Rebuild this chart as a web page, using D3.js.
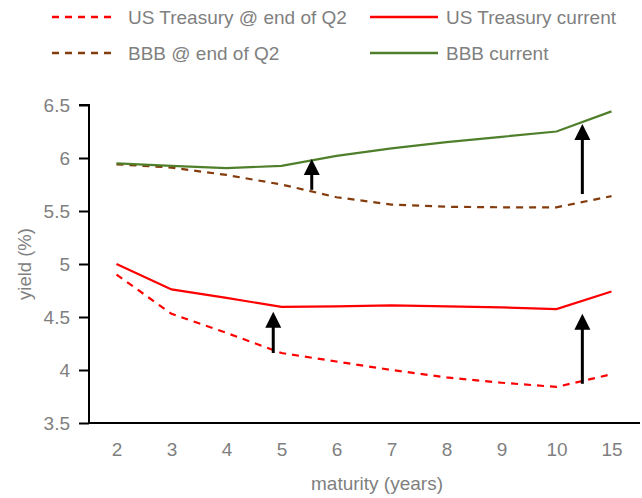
<!DOCTYPE html>
<html><head><meta charset="utf-8">
<script src="https://cdn.jsdelivr.net/npm/d3@7"></script>
<style>body{margin:0;background:#fff}svg{display:block}text{font-family:"Liberation Sans",Arial,sans-serif}</style>
</head><body>
<svg id="c" width="642" height="498"></svg>
<script>
const maturities = ["2","3","4","5","6","7","8","9","10","15"];
const ustQ2      = [4.90, 4.53, 4.35, 4.16, 4.08, 4.00, 3.93, 3.88, 3.84, 3.96];
const ustCurrent = [5.00, 4.76, 4.68, 4.595, 4.60, 4.61, 4.60, 4.59, 4.575, 4.74];
const bbbQ2      = [5.94, 5.91, 5.84, 5.75, 5.63, 5.56, 5.54, 5.535, 5.535, 5.64];
const bbbCurrent = [5.95, 5.925, 5.905, 5.925, 6.02, 6.09, 6.15, 6.20, 6.25, 6.44];
const yTicks = [3.5, 4, 4.5, 5, 5.5, 6, 6.5];
// arrows: position as fractional category index (0 = "2"), from value -> to value
const arrowIdx  = [3.55, 2.85, 8.47, 8.47];
const arrowFrom = [5.70, 4.16, 5.66, 3.87];
const arrowTo   = [5.99, 4.55, 6.32, 4.53];

const series = [
  {name:"US Treasury @ end of Q2", values:ustQ2, color:"#FF0000", dash:"7,6"},
  {name:"US Treasury current", values:ustCurrent, color:"#FF0000", dash:null},
  {name:"BBB @ end of Q2", values:bbbQ2, color:"#843C0C", dash:"7,6"},
  {name:"BBB current", values:bbbCurrent, color:"#4F7F2A", dash:null}
];

const svg = d3.select("#c");
const mLeft = 89, mRight = 639, mTop = 105, mBottom = 423;
const x = d3.scalePoint().domain(maturities).range([mLeft, mRight]).padding(0.5);
const y = d3.scaleLinear().domain([3.5, 6.5]).range([mBottom, mTop]);
const step = x.step();
const xFrac = v => x(maturities[0]) + v * step;
const grey = "#7F7F7F";

// Axes
const yAxis = d3.axisLeft(y).tickValues(yTicks).tickFormat(d3.format("")).tickSize(10).tickPadding(9);
const gy = svg.append("g").attr("transform", `translate(${mLeft},0)`).call(yAxis);
gy.select(".domain").attr("stroke","#000").attr("stroke-width",2).attr("d", `M-10,${mTop}H0V${mBottom}`);
gy.selectAll(".tick line").attr("stroke","#000").attr("stroke-width",2);
gy.selectAll(".tick text").attr("fill",grey).attr("font-size",19);

const xAxis = d3.axisBottom(x).tickSize(0).tickPadding(20);
const gx = svg.append("g").attr("transform", `translate(0,${mBottom})`).call(xAxis);
gx.select(".domain").attr("stroke","#000").attr("stroke-width",2).attr("d", `M${mLeft},0H${mRight+1}`);
gx.selectAll(".tick text").attr("fill",grey).attr("font-size",19);

svg.append("text").attr("x", 377).attr("y", 490).attr("text-anchor","middle")
  .attr("fill",grey).attr("font-size",19).text("maturity (years)");
svg.append("text").attr("transform", `translate(31,${(mTop+mBottom)/2}) rotate(-90)`).attr("text-anchor","middle")
  .attr("fill",grey).attr("font-size",18.5).text("yield (%)");

// Lines
const line = d3.line().x((d,i) => x(maturities[i])).y(d => y(d));
series.forEach(s => {
  svg.append("path").datum(s.values).attr("d", line).attr("fill","none")
    .attr("stroke", s.color).attr("stroke-width", 2.2)
    .attr("stroke-dasharray", s.dash);
});

// Arrows
arrowIdx.forEach((ix, i) => {
  const ax = xFrac(ix);
  const y0 = y(arrowFrom[i]), y1 = y(arrowTo[i]);
  const headLen = 16, headW = 8;
  svg.append("line").attr("x1", ax).attr("x2", ax).attr("y1", y0).attr("y2", y1 + headLen - 1)
    .attr("stroke","#000").attr("stroke-width",3);
  svg.append("path").attr("d", `M${ax},${y1}L${ax-headW},${y1+headLen}L${ax+headW},${y1+headLen}Z`).attr("fill","#000");
});

// Legend
const legPos = [[52,17,63,128],[370,17,68,446],[52,53,63,128],[370,53,68,446]];
series.forEach((s,i) => {
  const [lx, ly, len, tx] = legPos[i];
  svg.append("line").attr("x1", lx).attr("x2", lx+len).attr("y1", ly).attr("y2", ly)
    .attr("stroke", s.color).attr("stroke-width", 2.5).attr("stroke-dasharray", s.dash);
  svg.append("text").attr("x", tx).attr("y", ly).attr("dy","0.35em")
    .attr("fill",grey).attr("font-size",19).text(s.name);
});
</script>
</body></html>
